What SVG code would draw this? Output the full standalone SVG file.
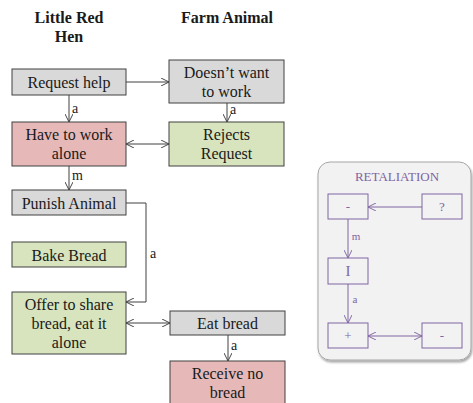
<svg xmlns="http://www.w3.org/2000/svg" width="473" height="403" viewBox="0 0 473 403">
  <defs>
    <marker id="open" viewBox="0 0 10 10" refX="10" refY="5" markerWidth="8" markerHeight="8" markerUnits="userSpaceOnUse" orient="auto-start-reverse">
      <path d="M0,0 L10,5 L0,10" fill="none" stroke="#404040" stroke-width="1.2"/>
    </marker>
    <marker id="openP" viewBox="0 0 10 10" refX="10" refY="5" markerWidth="8" markerHeight="8" markerUnits="userSpaceOnUse" orient="auto-start-reverse">
      <path d="M0,0 L10,5 L0,10" fill="none" stroke="#8064a2" stroke-width="1.2"/>
    </marker>
    <filter id="shadow" x="-10%" y="-10%" width="125%" height="125%">
      <feDropShadow dx="1" dy="2" stdDeviation="1.2" flood-color="#000" flood-opacity="0.35"/>
    </filter>
  </defs>
  <style>
    text { font-family: "Liberation Serif", "DejaVu Serif", serif; fill: #1a1a1a; }
    .title { font-size: 16px; font-weight: bold; text-anchor: middle; }
    .lbl { font-size: 16px; text-anchor: middle; }
    .edge { font-size: 14px; }
    .box { stroke: #404040; stroke-width: 1; }
    .gray { fill: #d9d9d9; }
    .pink { fill: #e6b9b8; }
    .green { fill: #d7e4bd; }
    .conn { fill: none; stroke: #404040; stroke-width: 1; }
    .pconn { fill: none; stroke: #8064a2; stroke-width: 1; }
    .pbox { fill: none; stroke: #8064a2; stroke-width: 1; }
    .ptext { fill: #8064a2; font-size: 13px; text-anchor: middle; }
  </style>
  <rect width="473" height="403" fill="#ffffff"/>

  <!-- column headings -->
  <text class="title" x="69" y="23">Little Red</text>
  <text class="title" x="69" y="42">Hen</text>
  <text class="title" x="227" y="23">Farm Animal</text>

  <!-- connectors -->
  <g id="connectors">
    <line class="conn" x1="126" y1="82" x2="169" y2="82" marker-end="url(#open)"/>
    <line class="conn" x1="69" y1="95" x2="69" y2="122" marker-end="url(#open)"/>
    <text class="edge" x="72" y="113">a</text>
    <line class="conn" x1="227" y1="103" x2="227" y2="122" marker-end="url(#open)"/>
    <text class="edge" x="230" y="114">a</text>
    <line class="conn" x1="126" y1="144" x2="169" y2="144" marker-start="url(#open)" marker-end="url(#open)"/>
    <line class="conn" x1="69" y1="166" x2="69" y2="190" marker-end="url(#open)"/>
    <text class="edge" x="72" y="180">m</text>
    <polyline class="conn" points="126,203 146,203 146,302 126,302" marker-end="url(#open)"/>
    <text class="edge" x="150" y="258">a</text>
    <line class="conn" x1="126" y1="323" x2="170" y2="323" marker-start="url(#open)" marker-end="url(#open)"/>
    <line class="conn" x1="228" y1="335" x2="228" y2="361" marker-end="url(#open)"/>
    <text class="edge" x="231" y="350">a</text>
  </g>

  <!-- nodes -->
  <g id="request-help">
    <rect class="box gray" x="12" y="69" width="114" height="26"/>
    <text class="lbl" x="69" y="87.5">Request help</text>
  </g>
  <g id="doesnt-want">
    <rect class="box gray" x="169" y="60" width="115" height="43"/>
    <text class="lbl" x="226.5" y="78">Doesn’t want</text>
    <text class="lbl" x="226.5" y="97">to work</text>
  </g>
  <g id="work-alone">
    <rect class="box pink" x="12" y="122" width="114" height="44"/>
    <text class="lbl" x="69" y="140">Have to work</text>
    <text class="lbl" x="69" y="159">alone</text>
  </g>
  <g id="rejects">
    <rect class="box green" x="169" y="122" width="115" height="44"/>
    <text class="lbl" x="226.5" y="140">Rejects</text>
    <text class="lbl" x="226.5" y="159">Request</text>
  </g>
  <g id="punish">
    <rect class="box gray" x="12" y="190" width="114" height="25"/>
    <text class="lbl" x="69" y="208.5">Punish Animal</text>
  </g>
  <g id="bake">
    <rect class="box green" x="12" y="242" width="114" height="25"/>
    <text class="lbl" x="69" y="260.5">Bake Bread</text>
  </g>
  <g id="offer">
    <rect class="box green" x="12" y="292" width="114" height="62"/>
    <text class="lbl" x="69" y="310">Offer  to share</text>
    <text class="lbl" x="69" y="329">bread, eat it</text>
    <text class="lbl" x="69" y="347.5">alone</text>
  </g>
  <g id="eat-bread">
    <rect class="box gray" x="170" y="311" width="115" height="24"/>
    <text class="lbl" x="227.5" y="328.5">Eat bread</text>
  </g>
  <g id="receive-no-bread">
    <rect class="box pink" x="170" y="361" width="115" height="50"/>
    <text class="lbl" x="227.5" y="379">Receive no</text>
    <text class="lbl" x="227.5" y="398">bread</text>
  </g>

  <!-- retaliation pattern panel -->
  <g id="retaliation">
    <rect x="318" y="162" width="153" height="198" rx="12" ry="12" fill="#f2f2f2" stroke="#a6a6a6" stroke-width="1" filter="url(#shadow)"/>
    <text class="ptext" x="397" y="181">RETALIATION</text>
    <g id="r-connectors">
      <line class="pconn" x1="422" y1="207" x2="368" y2="207" marker-end="url(#openP)"/>
      <line class="pconn" x1="348" y1="219" x2="348" y2="258" marker-end="url(#openP)"/>
      <text class="ptext" x="356" y="240" style="font-size:11px">m</text>
      <line class="pconn" x1="348" y1="284" x2="348" y2="323" marker-end="url(#openP)"/>
      <text class="ptext" x="355" y="303" style="font-size:11px">a</text>
      <line class="pconn" x1="368" y1="336" x2="422" y2="336" marker-start="url(#openP)" marker-end="url(#openP)"/>
    </g>
    <g id="r-minus-top">
      <rect class="pbox" x="328" y="194" width="40" height="25"/>
      <text class="ptext" x="348" y="211">-</text>
    </g>
    <g id="r-question">
      <rect class="pbox" x="422" y="194" width="40" height="25"/>
      <text class="ptext" x="442" y="211">?</text>
    </g>
    <g id="r-i">
      <rect class="pbox" x="328" y="258" width="40" height="26"/>
      <text class="ptext" x="348" y="276" style="font-size:15px">I</text>
    </g>
    <g id="r-plus">
      <rect class="pbox" x="328" y="323" width="40" height="25"/>
      <text class="ptext" x="348" y="340">+</text>
    </g>
    <g id="r-minus-bottom">
      <rect class="pbox" x="422" y="323" width="40" height="25"/>
      <text class="ptext" x="442" y="340">-</text>
    </g>
  </g>
</svg>
